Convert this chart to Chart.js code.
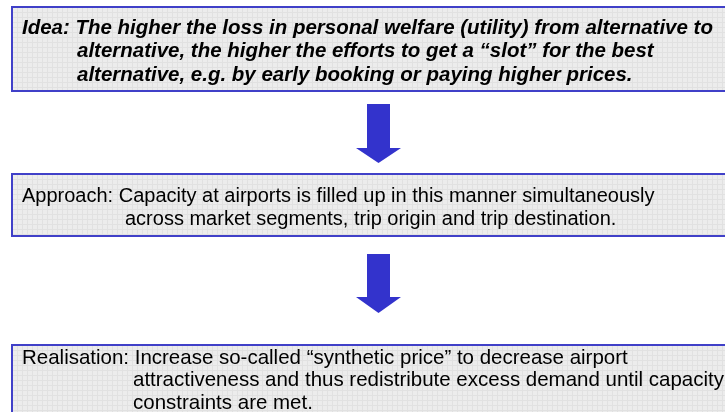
<!DOCTYPE html>
<html>
<head>
<meta charset="utf-8">
<script src="https://cdn.jsdelivr.net/npm/chart.js@4"></script>
<style>
  html, body { margin: 0; padding: 0; background: #ffffff; }
  #wrap { width: 725px; height: 412px; }
</style>
</head>
<body>
<div id="wrap"><canvas id="diagram" width="725" height="412"></canvas></div>
<script>
// texto de cada caixa (linha a linha)
const ideaLines = [
    'Idea: The higher the loss in personal welfare (utility) from alternative to',
    'alternative, the higher the efforts to get a \u201cslot\u201d for the best',
    'alternative, e.g. by early booking or paying higher prices.'
];
const approachLines = [
    'Approach: Capacity at airports is filled up in this manner simultaneously',
    'across market segments, trip origin and trip destination.'
];
const realisationLines = [
    'Realisation: Increase so-called \u201csynthetic price\u201d to decrease airport',
    'attractiveness and thus redistribute excess demand until capacity',
    'constraints are met.'
];

// layout: a primeira linha de cada caixa vai de 22 ate lineEnd
const boxes = [
    { lines: ideaLines, top: 7, bottom: 91, style: 'italic bold', lineEnd: 713, indent: 77, firstY: 28, step: 23.5 },
    { lines: approachLines, top: 174, bottom: 236, style: '', lineEnd: 655, indent: 125, firstY: 196, step: 23 },
    { lines: realisationLines, top: 345, bottom: 430, style: '', lineEnd: 628, indent: 133, firstY: 358, step: 22.5 }
];
const arrows = [
    { top: 104, headTop: 148, tip: 163 },
    { top: 254, headTop: 297, tip: 313 }
];

const diagramPlugin = {
    id: 'diagram',
    afterDraw(chart) {
        const ctx = chart.ctx;
        const xs = chart.scales.x;
        const ys = chart.scales.y;
        const X = v => xs.getPixelForValue(v);
        const Y = v => ys.getPixelForValue(v);

        ctx.save();
        boxes.forEach(b => {
            const x0 = X(12), x1 = X(740), y0 = Y(b.top), y1 = Y(b.bottom);
            // fundo cinza com grade
            ctx.fillStyle = '#ececec';
            ctx.fillRect(x0, y0, x1 - x0, y1 - y0);
            ctx.strokeStyle = '#e1e1e1';
            ctx.lineWidth = 1;
            ctx.beginPath();
            for (let gx = x0 + 5; gx < x1; gx += 5) {
                ctx.moveTo(Math.round(gx) + 0.5, y0);
                ctx.lineTo(Math.round(gx) + 0.5, y1);
            }
            for (let gy = y0 + 5; gy < y1; gy += 5) {
                ctx.moveTo(x0, Math.round(gy) + 0.5);
                ctx.lineTo(x1, Math.round(gy) + 0.5);
            }
            ctx.stroke();
            // borda azul
            ctx.strokeStyle = '#4040c8';
            ctx.lineWidth = 2;
            ctx.strokeRect(x0, y0, x1 - x0, y1 - y0);

            // tamanho da fonte ajustado pela largura da primeira linha
            ctx.font = b.style + ' 20px "Liberation Sans", Arial';
            const w = ctx.measureText(b.lines[0]).width;
            const size = 20 * (X(b.lineEnd) - X(22)) / w;
            ctx.font = b.style + ' ' + size.toFixed(2) + 'px "Liberation Sans", Arial';
            ctx.fillStyle = '#000000';
            ctx.textBaseline = 'middle';
            b.lines.forEach((line, i) => {
                const tx = i === 0 ? X(22) : X(b.indent);
                ctx.fillText(line, tx, Y(b.firstY + i * b.step));
            });
        });

        // setas
        ctx.fillStyle = '#3333cc';
        arrows.forEach(a => {
            const cx = 378.5;
            ctx.beginPath();
            ctx.moveTo(X(cx - 11.5), Y(a.top));
            ctx.lineTo(X(cx + 11.5), Y(a.top));
            ctx.lineTo(X(cx + 11.5), Y(a.headTop));
            ctx.lineTo(X(cx + 22.5), Y(a.headTop));
            ctx.lineTo(X(cx), Y(a.tip));
            ctx.lineTo(X(cx - 22.5), Y(a.headTop));
            ctx.lineTo(X(cx - 11.5), Y(a.headTop));
            ctx.closePath();
            ctx.fill();
        });
        ctx.restore();
    }
};

new Chart(document.getElementById('diagram'), {
    type: 'scatter',
    data: { datasets: [{ data: [] }] },
    options: {
        responsive: false,
        animation: false,
        layout: { padding: 0 },
        plugins: { legend: { display: false }, tooltip: { enabled: false } },
        scales: {
            x: { type: 'linear', min: 0, max: 725, display: false },
            y: { type: 'linear', min: 0, max: 412, reverse: true, display: false }
        }
    },
    plugins: [diagramPlugin]
});
</script>
</body>
</html>
